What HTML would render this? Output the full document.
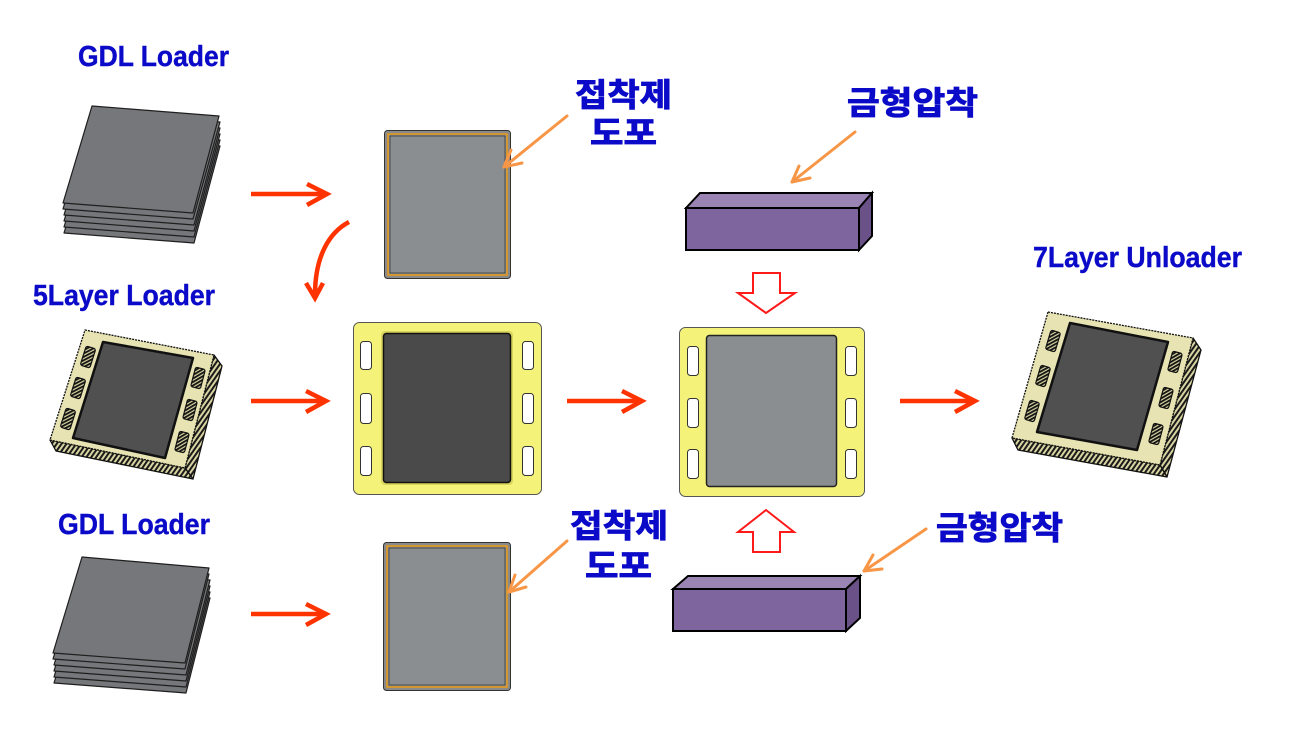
<!DOCTYPE html>
<html><head><meta charset="utf-8"><style>
html,body{margin:0;padding:0;background:#fff;}
svg{display:block;}
.en{font-family:"Liberation Sans",Arial,sans-serif;font-weight:bold;font-size:29px;fill:#0a0ac8;stroke:#0a0ac8;stroke-width:0.4px;}
.kr{font-family:"Liberation Sans","Noto Sans CJK KR","NanumGothic",sans-serif;font-weight:bold;font-size:32px;fill:#0a0ac8;stroke:#0a0ac8;stroke-width:0.9px;}
</style></head><body>
<svg width="1316" height="730" viewBox="0 0 1316 730" xmlns="http://www.w3.org/2000/svg">
<defs>
<pattern id="h" width="4" height="4" patternUnits="userSpaceOnUse" patternTransform="rotate(35)">
<rect width="4" height="4" fill="#d9d5a2"/><rect width="2" height="4" fill="#1a1a1a"/>
</pattern>
<pattern id="hs" width="3" height="3" patternUnits="userSpaceOnUse" patternTransform="rotate(45)">
<rect width="3" height="3" fill="#d9d5a2"/><rect width="1.8" height="3" fill="#111"/>
</pattern>
</defs>

<!-- Labels -->
<text class="en" x="78" y="66" textLength="151" lengthAdjust="spacingAndGlyphs">GDL Loader</text>
<text class="en" x="33" y="305" textLength="182" lengthAdjust="spacingAndGlyphs">5Layer Loader</text>
<text class="en" x="1033" y="267" textLength="209" lengthAdjust="spacingAndGlyphs">7Layer Unloader</text>
<text class="en" x="58" y="534" textLength="152" lengthAdjust="spacingAndGlyphs">GDL Loader</text>

<text class="kr" x="575" y="106" textLength="97" lengthAdjust="spacingAndGlyphs">접착제</text>
<text class="kr" x="590" y="144" textLength="67" lengthAdjust="spacingAndGlyphs">도포</text>
<text class="kr" x="847" y="114" textLength="131" lengthAdjust="spacingAndGlyphs">금형압착</text>
<text class="kr" x="570" y="537" textLength="98" lengthAdjust="spacingAndGlyphs">접착제</text>
<text class="kr" x="585" y="577" textLength="67" lengthAdjust="spacingAndGlyphs">도포</text>
<text class="kr" x="936" y="539" textLength="127" lengthAdjust="spacingAndGlyphs">금형압착</text>

<!-- GDL stack top -->
<g fill="#76777a" stroke="#1e1e1e" stroke-width="1.2" stroke-linejoin="round">
<polygon points="93,136 220,146 194,243 64,233"/>
<polygon points="93,130 220,140 194,237 64,227"/>
<polygon points="93,124 220,134 194,231 64,221"/>
<polygon points="93,118 220,128 194,225 64,215"/>
<polygon points="92,112 220,122 193,219 63,209"/>
<polygon points="92,106 219,116 193,213 63,203"/>
</g>
<!-- GDL stack bottom -->
<g fill="#76777a" stroke="#1e1e1e" stroke-width="1.2" stroke-linejoin="round">
<polygon points="83,587 210,598 186,693 54,683"/>
<polygon points="83,581 210,592 186,687 54,677"/>
<polygon points="83,575 210,586 186,681 54,671"/>
<polygon points="83,569 210,580 186,675 54,665"/>
<polygon points="82,563 209,574 185,669 53,659"/>
<polygon points="82,557 209,568 185,663 53,653"/>
</g>

<!-- 5Layer plate -->
<g stroke="#111" stroke-width="1.3" stroke-linejoin="round">
<polygon points="214,355 222,366 193,479 185,468" fill="url(#h)"/>
<polygon points="50,440 185,468 193,479 56,451" fill="url(#h)"/>
<polygon points="85,330 214,355 185,468 50,440" fill="#e7e3b2" stroke-dasharray="2 1"/>
<polygon points="103,342 193,358 165,458 73,438" fill="#505050" stroke-width="2.5"/>
</g>
<g fill="url(#hs)" stroke="#111" stroke-width="1.2">
<rect x="-5" y="-10" width="10" height="20" rx="2" transform="translate(88,357) rotate(17.6)"/>
<rect x="-5" y="-10" width="10" height="20" rx="2" transform="translate(78,388) rotate(17.6)"/>
<rect x="-5" y="-10" width="10" height="20" rx="2" transform="translate(68,419) rotate(17.6)"/>
<rect x="-5" y="-10" width="10" height="20" rx="2" transform="translate(198,378) rotate(14.5)"/>
<rect x="-5" y="-10" width="10" height="20" rx="2" transform="translate(190,410) rotate(14.5)"/>
<rect x="-5" y="-10" width="10" height="20" rx="2" transform="translate(182,442) rotate(14.5)"/>
</g>

<!-- 7Layer plate -->
<g stroke="#111" stroke-width="1.3" stroke-linejoin="round">
<polygon points="1193,338 1201,350 1167,477 1160,465" fill="url(#h)"/>
<polygon points="1012,438 1160,465 1167,477 1018,450" fill="url(#h)"/>
<polygon points="1048,312 1193,338 1160,465 1012,438" fill="#e7e3b2" stroke-dasharray="2 1"/>
<polygon points="1070,323 1168,342 1137,450 1037,432" fill="#505050" stroke-width="2.5"/>
</g>
<g fill="url(#hs)" stroke="#111" stroke-width="1.2">
<rect x="-5" y="-10" width="10" height="20" rx="2" transform="translate(1053,341) rotate(16.5)"/>
<rect x="-5" y="-10" width="10" height="20" rx="2" transform="translate(1043,376) rotate(16.5)"/>
<rect x="-5" y="-10" width="10" height="20" rx="2" transform="translate(1032,411) rotate(16.5)"/>
<rect x="-5" y="-10" width="10" height="20" rx="2" transform="translate(1175,362) rotate(15)"/>
<rect x="-5" y="-10" width="10" height="20" rx="2" transform="translate(1166,398) rotate(15)"/>
<rect x="-5" y="-10" width="10" height="20" rx="2" transform="translate(1156,434) rotate(15)"/>
</g>

<!-- adhesive rects -->
<g>
<rect x="384.5" y="130.5" width="126" height="148" rx="3" fill="#8a8a8a" stroke="#333" stroke-width="1"/>
<rect x="388" y="134" width="119" height="141" fill="#8b8e91" stroke="#e39a1c" stroke-width="1.6"/>
<rect x="390" y="136" width="115" height="137" fill="none" stroke="#3a3a3a" stroke-width="0.8"/>
</g>
<g>
<rect x="383.5" y="542.5" width="127" height="148" rx="3" fill="#8a8a8a" stroke="#333" stroke-width="1"/>
<rect x="387" y="546" width="120" height="141" fill="#8b8e91" stroke="#e39a1c" stroke-width="1.6"/>
<rect x="389" y="548" width="116" height="137" fill="none" stroke="#3a3a3a" stroke-width="0.8"/>
</g>

<!-- yellow frame left -->
<rect x="353.5" y="322.5" width="188" height="172" rx="6" fill="#f4f279" stroke="#555" stroke-width="1"/>
<rect x="381" y="331" width="132" height="154" rx="4" fill="#d9d45a"/>
<rect x="383.5" y="333.5" width="127" height="149" rx="3" fill="#4a4a4a" stroke="#111" stroke-width="1.5"/>
<g fill="#fff" stroke="#333" stroke-width="1">
<rect x="360.5" y="341.5" width="11" height="28" rx="3"/>
<rect x="360.5" y="393.5" width="11" height="30" rx="3"/>
<rect x="360.5" y="446.5" width="11" height="29" rx="3"/>
<rect x="522.5" y="341.5" width="11" height="28" rx="3"/>
<rect x="522.5" y="393.5" width="11" height="30" rx="3"/>
<rect x="522.5" y="446.5" width="11" height="29" rx="3"/>
</g>

<!-- yellow frame right -->
<rect x="679.5" y="327.5" width="185" height="169" rx="6" fill="#f4f279" stroke="#555" stroke-width="1"/>
<rect x="706.5" y="335.5" width="130" height="151" rx="3" fill="#8b8e91" stroke="#222" stroke-width="1.5"/>
<g fill="#fff" stroke="#333" stroke-width="1">
<rect x="687.5" y="346.5" width="11" height="29" rx="3"/>
<rect x="687.5" y="398.5" width="11" height="29" rx="3"/>
<rect x="687.5" y="449.5" width="11" height="29" rx="3"/>
<rect x="845.5" y="346.5" width="11" height="29" rx="3"/>
<rect x="845.5" y="398.5" width="11" height="29" rx="3"/>
<rect x="845.5" y="449.5" width="11" height="29" rx="3"/>
</g>

<!-- purple boxes -->
<g stroke="#000" stroke-width="2" stroke-linejoin="miter">
<polygon points="686,208 700,193 872,193 859,208" fill="#9a84b4"/>
<polygon points="859,208 872,193 872,236 859,250" fill="#6a5288"/>
<rect x="686" y="208" width="173" height="42" fill="#7f659e"/>
<polygon points="673,589 688,576 860,576 846,589" fill="#9a84b4"/>
<polygon points="846,589 860,576 860,618 846,631" fill="#6a5288"/>
<rect x="673" y="589" width="173" height="42" fill="#7f659e"/>
</g>

<!-- block arrows -->
<polygon points="753,273 780,273 780,293 795,293 766,313 738,293 753,293" fill="#fff" stroke="#ff1a1a" stroke-width="2"/>
<polygon points="766,510 794,532 780,532 780,552 753,552 753,532 738,532" fill="#fff" stroke="#ff1a1a" stroke-width="2"/>

<!-- red arrows -->
<g fill="none" stroke="#ff3300" stroke-width="4.5" stroke-linecap="butt" stroke-linejoin="miter">
<line x1="251" y1="194" x2="325" y2="194"/><polyline points="307,184 327,194 307,205"/>
<line x1="251" y1="401" x2="324" y2="401"/><polyline points="306,391 326,401 306,412"/>
<line x1="251" y1="614" x2="324" y2="614"/><polyline points="306,604 326,614 306,625"/>
<line x1="567" y1="401" x2="640" y2="401"/><polyline points="622,391 642,401 622,412"/>
<line x1="900" y1="401" x2="973" y2="401"/><polyline points="955,391 975,401 955,412"/>
<path d="M349 222 C 330 232 315 255 315 295"/><polyline points="306,283 315,298 323,283"/>
</g>

<!-- orange pointer arrows -->
<g fill="none" stroke="#f79646" stroke-width="3" stroke-linecap="round" stroke-linejoin="round">
<line x1="567" y1="116" x2="504" y2="167"/><polyline points="511,150 504,167 522,163"/>
<line x1="855" y1="132" x2="792" y2="182"/><polyline points="799,166 792,182 810,178"/>
<line x1="926" y1="529" x2="864" y2="571"/><polyline points="873,555 864,571 882,569"/>
<line x1="567" y1="541" x2="509" y2="592"/><polyline points="515,575 509,592 526,587"/>
</g>
</svg>
</body></html>
